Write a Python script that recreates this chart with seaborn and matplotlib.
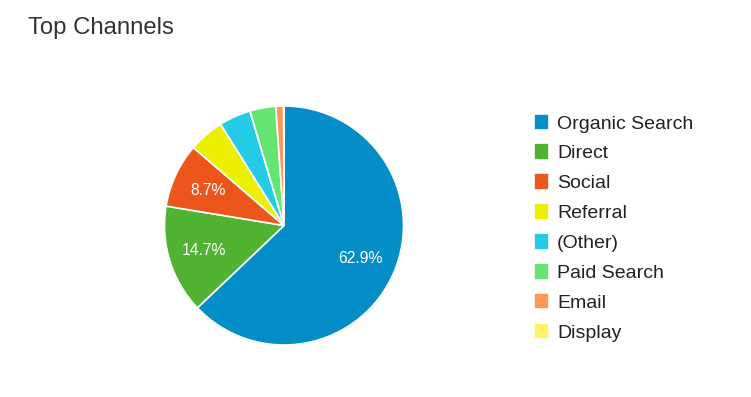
import matplotlib
matplotlib.use("Agg")
import matplotlib.pyplot as plt
import seaborn as sns

# channel shares (percent)
channels = ["Organic Search", "Direct", "Social", "Referral", "(Other)",
            "Paid Search", "Email", "Display"]
share = [62.9, 14.7, 8.7, 4.8, 4.3, 3.5, 1.05, 0.05]
colors = ["#058DC7", "#50B432", "#ED561B", "#EDEF00", "#24CBE5",
          "#64E572", "#FF9655", "#FFF263"]

sns.set_theme(style="white")
plt.rcParams["font.family"] = ["Liberation Sans", "DejaVu Sans"]

W, H = 751, 397
fig = plt.figure(figsize=(W / 100, H / 100), dpi=100)

# pie axes: centre ~(284, 225.5) px, radius ~119.5 px
cx, cy, r = 284, 225.5, 119.5
ax = fig.add_axes([(cx - r) / W, (H - cy - r) / H, 2 * r / W, 2 * r / H])

pal = sns.color_palette(colors)
wedges, texts, autotexts = ax.pie(
    share, colors=pal, startangle=90, counterclock=False,
    autopct=lambda p: f"{p:.1f}%" if p > 5 else "",
    pctdistance=0.7,
    wedgeprops=dict(edgecolor="white", linewidth=1.2),
    textprops=dict(color="white", fontsize=11.3),
)
ax.set_xlim(-1, 1)
ax.set_ylim(-1, 1)
ax.set_aspect("equal")
ax.axis("off")

fig.text(28 / W, 1 - 34 / H, "Top Channels", fontsize=17.2,
         color="#333333", va="baseline", ha="left")

fig.legend(wedges, channels, loc="upper left",
           bbox_to_anchor=(534 / W, 1 - 113.5 / H), frameon=False,
           fontsize=14, handlelength=0.78, handleheight=0.95,
           handletextpad=0.4, labelspacing=0.555, borderpad=0,
           borderaxespad=0, labelcolor="#222222")

fig.savefig("out.png", dpi=100, facecolor="white")
